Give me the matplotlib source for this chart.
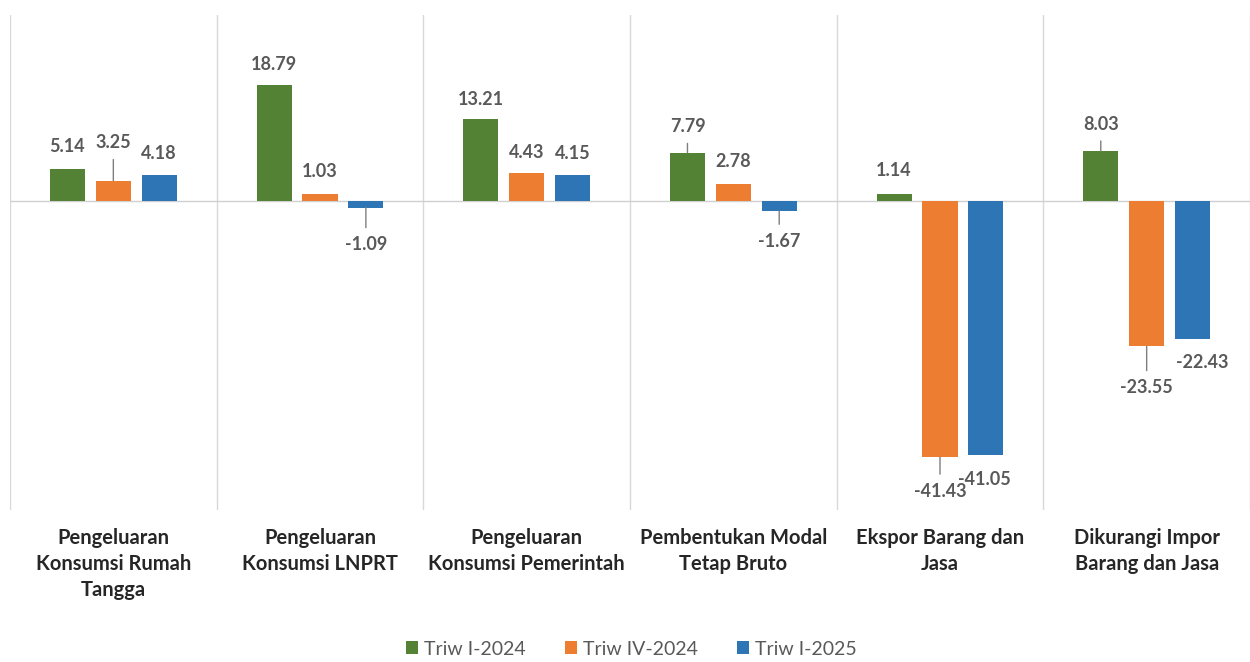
import matplotlib.pyplot as plt
import numpy as np

categories = [
    "Pengeluaran\nKonsumsi Rumah\nTangga",
    "Pengeluaran\nKonsumsi LNPRT",
    "Pengeluaran\nKonsumsi Pemerintah",
    "Pembentukan Modal\nTetap Bruto",
    "Ekspor Barang dan\nJasa",
    "Dikurangi Impor\nBarang dan Jasa",
]
series_names = ["Triw I-2024", "Triw IV-2024", "Triw I-2025"]
triw1_2024 = [5.14, 18.79, 13.21, 7.79, 1.14, 8.03]
triw4_2024 = [3.25, 1.03, 4.43, 2.78, -41.43, -23.55]
triw1_2025 = [4.18, -1.09, 4.15, -1.67, -41.05, -22.43]

colors = ["#548235", "#ED7D31", "#2E75B6"]
# label offsets in pixels (dx, dy from bar end) and whether a leader line is drawn
label_pos = [
    [(0, 22, False), (0, 38, True), (0, 21, False)],
    [(0, 20, False), (0, 23, False), (0, -37, True)],
    [(0, 20, False), (0, 21, False), (0, 22, False)],
    [(0, 26, True), (0, 22, False), (0, -30, True)],
    [(0, 23, False), (0, -34, True), (-2, -25, False)],
    [(0, 27, True), (0, -41, True), (10, -23, False)],
]

plt.rcParams['font.family'] = ['Lato', 'DejaVu Sans']

fig = plt.figure(figsize=(12.5, 6.62), dpi=100)
ax = fig.add_axes([0.008, 0.2296, 0.992, 0.7474])

x = np.arange(len(categories))
width = 0.17
step = 0.222
all_series = [triw1_2024, triw4_2024, triw1_2025]
for i, vals in enumerate(all_series):
    xs = x + (i - 1) * step
    ax.bar(xs, vals, width, color=colors[i], label=series_names[i], zorder=3)
    for j, v in enumerate(vals):
        dx, dy, leader = label_pos[j][i]
        ax.annotate(f"{v:.2f}", (xs[j], v), xytext=(dx, dy), textcoords="offset pixels",
                    ha="center", va="center", fontsize=13, fontweight="bold", color="#595959",
                    arrowprops=dict(arrowstyle="-", color="#7f7f7f", lw=1, shrinkA=4, shrinkB=0) if leader else None,
                    zorder=4)

ax.set_xlim(-0.5, len(categories) - 0.5)
ax.set_ylim(-50, 30)
ax.axhline(0, color="#d0d0d0", lw=1, zorder=2)
for b in np.arange(len(categories) + 1) - 0.5:
    ax.axvline(b, color="#d9d9d9", lw=1, zorder=1)

for s in ax.spines.values():
    s.set_visible(False)
ax.set_yticks([])
ax.set_xticks(x)
ax.set_xticklabels(categories, fontsize=14.5, fontweight="bold", color="#262626", linespacing=1.38)
ax.tick_params(axis="x", length=0, pad=13)

fig.legend(loc="lower center", bbox_to_anchor=(0.505, -0.02), ncol=3, frameon=False,
           fontsize=14, handlelength=0.65, handleheight=0.65, columnspacing=2.0,
           handletextpad=0.3, labelcolor="#595959")

fig.savefig("out.png", dpi=100)
